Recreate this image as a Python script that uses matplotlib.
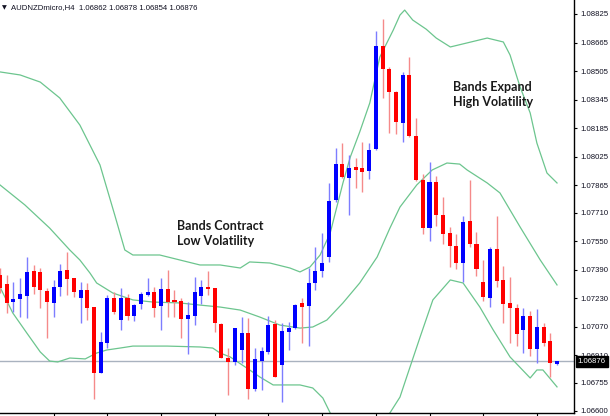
import matplotlib
matplotlib.use("Agg")
import matplotlib.pyplot as plt
import numpy as np

# AUDNZD H4 candles (oldest first)
opens = [1.07361, 1.07310, 1.07209, 1.07226, 1.07243, 1.07383, 1.07378, 1.07271, 1.07204, 1.07293,
         1.07389, 1.07344, 1.07232, 1.07277, 1.07181, 1.06811, 1.06979, 1.07232, 1.07108, 1.07232,
         1.07131, 1.07198, 1.07249, 1.07265, 1.07187, 1.07282, 1.07221, 1.07215, 1.07114, 1.07131,
         1.07243, 1.07293, 1.07288, 1.07086, 1.06895, 1.06873, 1.06940, 1.07035, 1.06721, 1.06878,
         1.06929, 1.07086, 1.06856, 1.07041, 1.07063, 1.07204, 1.07187, 1.07316, 1.07383, 1.07462,
         1.07782, 1.07983, 1.07905, 1.07967, 1.07961, 1.07944, 1.08068, 1.08645, 1.08516, 1.08387,
         1.08213, 1.08483, 1.08141, 1.07894, 1.07624, 1.07882, 1.07697, 1.07596, 1.07523, 1.07428,
         1.07664, 1.07535, 1.07322, 1.07232, 1.07507, 1.07333, 1.07204, 1.07176, 1.07052, 1.07131,
         1.06946, 1.07069, 1.06991, 1.06862]
highs = [1.07400, 1.07361, 1.07322, 1.07344, 1.07462, 1.07417, 1.07400, 1.07288, 1.07333, 1.07423,
         1.07490, 1.07344, 1.07322, 1.07316, 1.07181, 1.07041, 1.07249, 1.07265, 1.07288, 1.07254,
         1.07198, 1.07265, 1.07344, 1.07293, 1.07344, 1.07389, 1.07277, 1.07232, 1.07209, 1.07350,
         1.07333, 1.07383, 1.07288, 1.07092, 1.06951, 1.07063, 1.07125, 1.07120, 1.06951, 1.06957,
         1.07131, 1.07108, 1.07092, 1.07097, 1.07198, 1.07232, 1.07400, 1.07518, 1.07596, 1.07877,
         1.08073, 1.08101, 1.08034, 1.08017, 1.08107, 1.08101, 1.08730, 1.08797, 1.08528, 1.08393,
         1.08500, 1.08584, 1.08242, 1.07927, 1.07995, 1.07916, 1.07798, 1.07630, 1.07591, 1.07692,
         1.07894, 1.07602, 1.07445, 1.07518, 1.07692, 1.07411, 1.07350, 1.07198, 1.07176, 1.07159,
         1.07170, 1.07092, 1.07035, 1.06878]
lows = [1.07260, 1.07148, 1.07153, 1.07125, 1.07120, 1.07254, 1.07176, 1.07007, 1.07125, 1.07243,
        1.07249, 1.07237, 1.07092, 1.07108, 1.06665, 1.06811, 1.06951, 1.07142, 1.07052, 1.07108,
        1.07103, 1.07170, 1.07243, 1.07125, 1.07052, 1.07125, 1.07125, 1.07007, 1.06918, 1.07080,
        1.07198, 1.07249, 1.07041, 1.06895, 1.06688, 1.06856, 1.06867, 1.06665, 1.06710, 1.06716,
        1.06918, 1.06789, 1.06648, 1.06940, 1.07058, 1.06979, 1.06962, 1.07277, 1.07350, 1.07434,
        1.07770, 1.07905, 1.07697, 1.07849, 1.07826, 1.07899, 1.08062, 1.08354, 1.08157, 1.08152,
        1.08107, 1.08135, 1.07888, 1.07591, 1.07552, 1.07636, 1.07535, 1.07406, 1.07394, 1.07322,
        1.07518, 1.07355, 1.07215, 1.07181, 1.07293, 1.07092, 1.06979, 1.06962, 1.06923, 1.06906,
        1.06867, 1.06962, 1.06789, 1.06854]
closes = [1.07288, 1.07204, 1.07226, 1.07254, 1.07378, 1.07293, 1.07277, 1.07209, 1.07293, 1.07383,
          1.07338, 1.07265, 1.07277, 1.07176, 1.06811, 1.06985, 1.07232, 1.07153, 1.07232, 1.07131,
          1.07192, 1.07254, 1.07265, 1.07176, 1.07282, 1.07209, 1.07209, 1.07114, 1.07136, 1.07265,
          1.07293, 1.07282, 1.07092, 1.06895, 1.06873, 1.07063, 1.07035, 1.06721, 1.06890, 1.06934,
          1.07080, 1.06789, 1.07047, 1.07063, 1.07192, 1.07181, 1.07316, 1.07383, 1.07428, 1.07776,
          1.07983, 1.07911, 1.07961, 1.07950, 1.07939, 1.08062, 1.08645, 1.08516, 1.08387, 1.08219,
          1.08483, 1.08141, 1.07894, 1.07624, 1.07882, 1.07697, 1.07591, 1.07523, 1.07428, 1.07658,
          1.07535, 1.07394, 1.07237, 1.07507, 1.07327, 1.07198, 1.07176, 1.07030, 1.07131, 1.06946,
          1.07069, 1.06979, 1.06867, 1.06876]

# Bollinger bands, sampled at bar positions
upper_x = [0.0, 3.0, 6.0, 8.9, 11.9, 14.9, 17.1, 18.6, 19.8, 23.8, 26.8, 29.8, 32.8, 35.8, 37.2,
           40.2, 43.2, 44.7, 46.2, 47.7, 49.2, 51.1, 52.2, 53.6, 55.1, 56.6, 58.6, 59.6, 60.3,
           61.5, 63.5, 65.0, 67.1, 69.3, 72.6, 75.0, 76.0, 77.5, 79.0, 80.0, 81.5, 83.0]
upper_y = [1.08500, 1.08483, 1.08443, 1.08354, 1.08202, 1.07978, 1.07697, 1.07501, 1.07473, 1.07473,
           1.07445, 1.07417, 1.07417, 1.07400, 1.07434, 1.07428, 1.07400, 1.07378, 1.07406, 1.07473,
           1.07596, 1.07877, 1.08023, 1.08163, 1.08326, 1.08584, 1.08735, 1.08819, 1.08847, 1.08791,
           1.08740, 1.08690, 1.08640, 1.08660, 1.08690, 1.08668, 1.08595, 1.08415, 1.08270, 1.08101,
           1.07933, 1.07877]
middle_x = [0.0, 3.7, 7.4, 10.4, 11.9, 13.4, 14.4, 16.8, 19.8, 22.8, 26.8, 29.8, 32.8, 35.8, 38.7,
            41.7, 44.7, 46.6, 48.7, 51.1, 53.6, 56.2, 58.1, 59.6, 62.1, 64.4, 66.6, 68.5, 69.6,
            72.6, 74.5, 77.5, 80.5, 83.0]
middle_y = [1.07866, 1.07754, 1.07624, 1.07501, 1.07445, 1.07372, 1.07316, 1.07260, 1.07221, 1.07209,
            1.07204, 1.07192, 1.07181, 1.07164, 1.07125, 1.07080, 1.07063, 1.07069, 1.07108, 1.07204,
            1.07316, 1.07462, 1.07624, 1.07742, 1.07866, 1.07950, 1.07989, 1.07983, 1.07950, 1.07877,
            1.07821, 1.07630, 1.07445, 1.07305]
lower_x = [0.0, 1.9, 4.0, 6.0, 7.4, 8.6, 10.4, 12.7, 14.4, 15.9, 17.9, 19.8, 24.9, 29.8, 31.7, 32.8,
           34.3, 37.2, 38.7, 40.7, 44.7, 46.6, 48.1, 49.2, 51.4, 53.6, 55.9, 58.1, 59.6, 60.6, 62.6,
           64.5, 67.1, 69.0, 71.5, 73.5, 76.0, 79.0, 80.0, 80.9, 83.0]
lower_y = [1.07293, 1.07148, 1.07035, 1.06929, 1.06878, 1.06873, 1.06895, 1.06890, 1.06923, 1.06940,
           1.06951, 1.06962, 1.06962, 1.06957, 1.06951, 1.06923, 1.06901, 1.06828, 1.06789, 1.06744,
           1.06744, 1.06727, 1.06671, 1.06587, 1.06480, 1.06435, 1.06480, 1.06587, 1.06676, 1.06789,
           1.07013, 1.07221, 1.07333, 1.07316, 1.07181, 1.07052, 1.06901, 1.06783, 1.06828, 1.06828,
           1.06733]

price_ticks = [1.08825, 1.08665, 1.08505, 1.08345, 1.08185, 1.08025, 1.07865, 1.07710,
               1.07550, 1.07390, 1.07230, 1.07070, 1.06910, 1.06755, 1.06600]
last_price = 1.06876
title = "AUDNZDmicro,H4  1.06862 1.06878 1.06854 1.06876"

#%% figure
o = np.array(opens); h = np.array(highs); l = np.array(lows); c = np.array(closes)
x = np.arange(len(o))
bull = c >= o

fig = plt.figure(figsize=(6.1, 4.16), dpi=100)
ax = fig.add_axes([0, 3 / 416, 574 / 610, 413 / 416])

band_col = '#6cc58e'
ax.plot(upper_x, upper_y, color=band_col, lw=0.9)
ax.plot(middle_x, middle_y, color=band_col, lw=0.9)
ax.plot(lower_x, lower_y, color=band_col, lw=0.9)

ax.axhline(last_price, color='#a9b2bf', lw=1.0, zorder=1)

# wicks, a lighter tint than the bodies
ax.vlines(x[bull], l[bull], h[bull], color='#7d7dff', lw=1.0, zorder=2)
ax.vlines(x[~bull], l[~bull], h[~bull], color='#f58a8a', lw=1.0, zorder=2)
body_lo = np.minimum(o, c)
body_h = np.maximum(np.abs(c - o), 0.00004)
ax.bar(x, body_h, bottom=body_lo, width=0.6,
       color=np.where(bull, '#0000ff', '#ff0000'), lw=0, zorder=3)

ax.set_xlim(0.0, 85.53)
ax.set_ylim(1.065866, 1.089035)

for s in ['left', 'top']:
    ax.spines[s].set_visible(False)
for s in ['right', 'bottom']:
    ax.spines[s].set_color('black')
    ax.spines[s].set_linewidth(1.0)

ax.yaxis.tick_right()
ax.set_yticks(price_ticks)
ax.set_yticklabels(['%.5f' % v for v in price_ticks])
ax.tick_params(axis='y', length=2.5, width=0.8, pad=2, labelsize=5.6,
               labelcolor='#111122', labelfontfamily='Liberation Sans')
ax.set_xticks(range(8, 84, 8))
ax.set_xticklabels([])
ax.tick_params(axis='x', length=3, width=0.8)

# current price tag sits over the axis, like the terminal draws it
ax.annotate('%.5f' % last_price, xy=(1, last_price), xycoords=('axes fraction', 'data'),
            xytext=(2.6, 0), textcoords='offset points', ha='left', va='center',
            fontsize=5.6, family='Liberation Sans', color='white', zorder=10,
            bbox=dict(boxstyle='square,pad=0.25', fc='black', ec='black'))

txt = dict(fontsize=9, fontweight='bold', family='Lato', color='#1a1a1a',
           ha='left', va='center', linespacing=1.35)
ax.text(26.4, 1.07594, "Bands Contract\nLow Volatility", **txt)
ax.text(67.5, 1.08373, "Bands Expand\nHigh Volatility", **txt)

fig.text(2 / 610, 1 - 8 / 416, "\u25bc", fontsize=4.5, va='center', ha='left', color='#111122')
fig.text(11 / 610, 1 - 8 / 416, title, fontsize=5.6, family='Liberation Sans',
         va='center', ha='left', color='#111122')

fig.savefig('out.png', dpi=100)
